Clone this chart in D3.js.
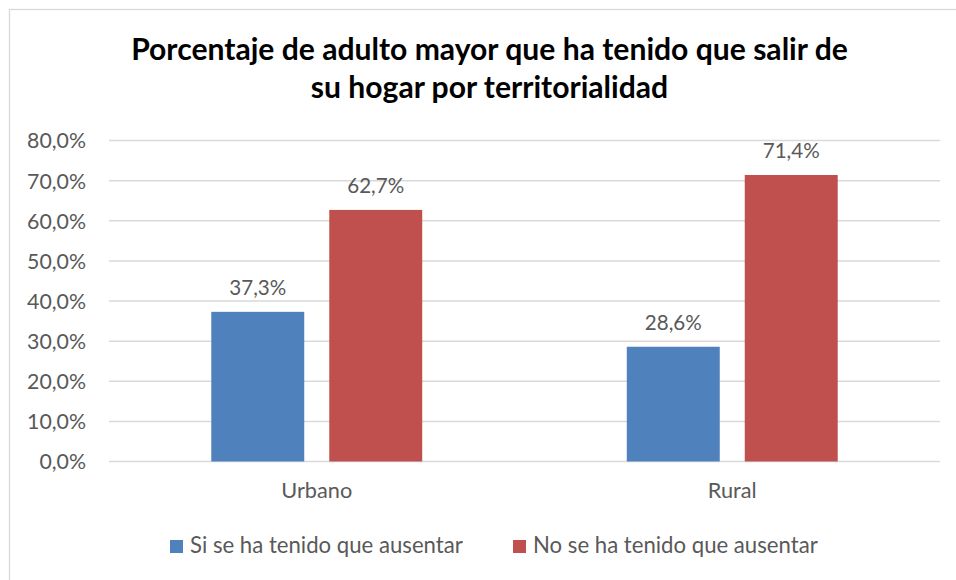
<!DOCTYPE html>
<html>
<head>
<meta charset="utf-8">
<script src="https://cdn.jsdelivr.net/npm/d3@7"></script>
<style>
  html, body { margin: 0; padding: 0; background: #fff; }
  svg { display: block; font-family: Lato, "Open Sans", sans-serif; }
</style>
</head>
<body>
<div id="chart"></div>
<script>
const categories = ["Urbano", "Rural"];
const seriesNames = ["Si se ha tenido que ausentar", "No se ha tenido que ausentar"];
const siValues = [37.3, 28.6];
const noValues = [62.7, 71.4];
const yTicks = [0, 10, 20, 30, 40, 50, 60, 70, 80];
const titleLines = ["Porcentaje de adulto mayor que ha tenido que salir de", "su hogar por territorialidad"];

const colors = ["#4F81BD", "#C0504D"];
const textColor = "#595959";
const gridColor = "#D9D9D9";

const width = 956, height = 580;
const margin = { top: 140, right: 16, bottom: 119, left: 109 };
const innerW = width - margin.left - margin.right,
  innerH = height - margin.top - margin.bottom;

const fmt = v => d3.format(".1f")(v).replace(".", ",") + "%";

// scale font-size of a whole selection so that one reference node has width w
function fit(sel, refNode, w) {
  const fs = parseFloat(d3.select(refNode).style("font-size"));
  const len = refNode.getComputedTextLength();
  sel.style("font-size", (fs * w / len) + "px");
}

const svg = d3.select("#chart")
  .append("svg")
  .attr("width", width)
  .attr("height", height);

// chart area border (only top and left visible)
svg.append("rect")
  .attr("x", 9.5).attr("y", 9.5)
  .attr("width", width + 20).attr("height", height + 20)
  .attr("fill", "#fff")
  .attr("stroke", gridColor)
  .attr("stroke-width", 1.3);

// title
const title = svg.append("text")
  .attr("text-anchor", "middle")
  .attr("fill", "#000")
  .style("font-weight", "bold")
  .style("font-size", "26px");
title.selectAll("tspan")
  .data(titleLines)
  .join("tspan")
  .attr("x", 489.5)
  .attr("y", (d, i) => 60 + i * 38)
  .text(d => d);
const t1 = title.select("tspan").node().getComputedTextLength();
title.style("font-size", (26 * 717 / t1) + "px");

const g = svg.append("g")
  .attr("transform", "translate(" + margin.left + "," + margin.top + ")");

const y = d3.scaleLinear().domain([0, 80]).range([innerH + 0.5, 0.5]);

const x0 = d3.scaleBand().domain(categories).range([0, innerW]).padding(0);
const x1 = d3.scaleBand().domain(seriesNames)
  .range([0, x0.bandwidth()])
  .paddingInner(0.212)
  .paddingOuter(0.867);

// gridlines
g.append("g")
  .selectAll("line")
  .data(yTicks)
  .join("line")
  .attr("x1", 0).attr("x2", innerW)
  .attr("y1", d => y(d)).attr("y2", d => y(d))
  .attr("stroke", gridColor)
  .attr("stroke-width", 1.5);

// y axis labels
const yAxis = g.append("g")
  .call(d3.axisLeft(y).tickValues(yTicks).tickFormat(fmt).tickSize(0).tickPadding(23));
yAxis.select(".domain").remove();
const yText = yAxis.selectAll("text")
  .attr("fill", textColor)
  .attr("dy", "0.35em")
  .style("font-size", "19px")
  .style("font-family", "Lato, 'Open Sans', sans-serif");
fit(yText, yText.filter(d => d === 80).node(), 59);

// x axis labels
const xAxis = g.append("g")
  .attr("transform", "translate(0," + innerH + ")")
  .call(d3.axisBottom(x0).tickSize(0).tickPadding(22));
xAxis.select(".domain").remove();
const xText = xAxis.selectAll("text")
  .attr("fill", textColor)
  .attr("dy", "0.71em")
  .style("font-size", "19px")
  .style("font-family", "Lato, 'Open Sans', sans-serif");
fit(xText, xText.filter(d => d === "Urbano").node(), 71);

// bars
const rows = categories.map((c, i) => ({ cat: c, vals: [siValues[i], noValues[i]] }));
const groups = g.selectAll(".grp")
  .data(rows)
  .join("g")
  .attr("class", "grp")
  .attr("transform", d => "translate(" + x0(d.cat) + ",0)");

groups.selectAll("rect")
  .data(d => d.vals.map((v, j) => ({ s: seriesNames[j], v: v, j: j })))
  .join("rect")
  .attr("x", d => x1(d.s))
  .attr("width", x1.bandwidth())
  .attr("y", d => y(d.v))
  .attr("height", d => y(0) - y(d.v))
  .attr("fill", d => colors[d.j]);

// value labels
const labels = groups.selectAll(".lbl")
  .data(d => d.vals.map((v, j) => ({ s: seriesNames[j], v: v, j: j })))
  .join("text")
  .attr("class", "lbl")
  .attr("x", d => x1(d.s) + x1.bandwidth() / 2)
  .attr("y", d => y(d.v) - 17)
  .attr("text-anchor", "middle")
  .attr("fill", textColor)
  .style("font-size", "19px")
  .text(d => fmt(d.v));
fit(labels, labels.filter(d => d.v === 71.4).node(), 57);

// legend
const legendX = [170, 513];
const legend = svg.append("g")
  .selectAll("g")
  .data(seriesNames)
  .join("g")
  .attr("transform", (d, i) => "translate(" + legendX[i] + ",540)");
legend.append("rect")
  .attr("width", 13).attr("height", 13)
  .attr("fill", (d, i) => colors[i]);
const legText = legend.append("text")
  .attr("x", 20)
  .attr("y", 13)
  .attr("fill", textColor)
  .style("font-size", "19px")
  .text(d => d);
fit(legText, legText.node(), 273);
</script>
</body>
</html>
